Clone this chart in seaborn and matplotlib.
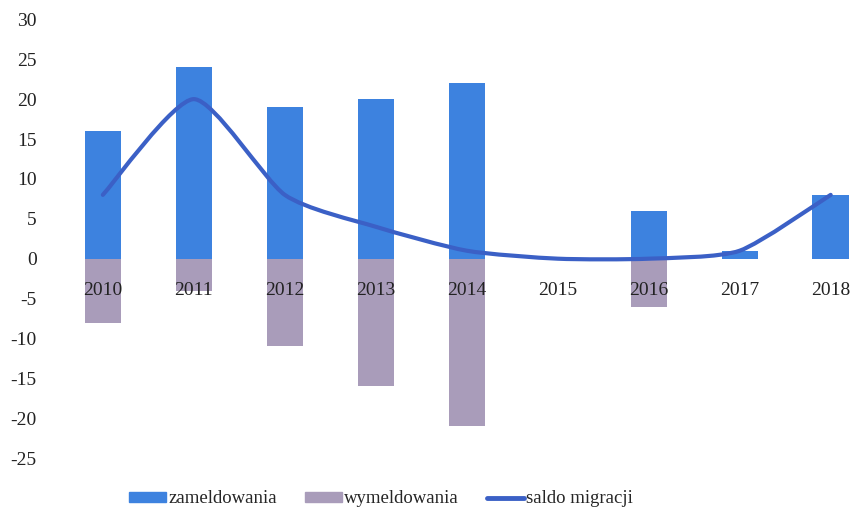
import numpy as np
import pandas as pd
import matplotlib
matplotlib.use("Agg")
import matplotlib.pyplot as plt
import matplotlib.patches as mpatches
from matplotlib.lines import Line2D
from matplotlib.path import Path
import seaborn as sns

years = ["2010", "2011", "2012", "2013", "2014", "2015", "2016", "2017", "2018"]
zameldowania = [16, 24, 19, 20, 22, 0, 6, 1, 8]
wymeldowania = [-8, -4, -11, -16, -21, 0, -6, 0, 0]
saldo = [8, 20, 8, 4, 1, 0, 0, 1, 8]

BLUE = "#3d82df"
GREY = "#a99cba"
LINE = "#3b60c6"

sns.set_theme(style="white")
plt.rcParams["font.family"] = ["Liberation Serif", "DejaVu Serif"]
plt.rcParams["axes.unicode_minus"] = False

df = pd.DataFrame({"rok": years, "zam": zameldowania, "wym": wymeldowania, "saldo": saldo})

fig = plt.figure(figsize=(8.56, 5.17), dpi=100)
ax = fig.add_axes([0.067, 0.083, 0.93, 0.895])

sns.barplot(data=df, x="rok", y="zam", color=BLUE, width=0.4, saturation=1,
            linewidth=0, ax=ax, zorder=2)
sns.barplot(data=df, x="rok", y="wym", color=GREY, width=0.4, saturation=1,
            linewidth=0, ax=ax, zorder=2)

# smoothed line through the data points
xs = np.arange(len(saldo), dtype=float)
ys = np.array(saldo, dtype=float)
verts = [(xs[0], ys[0])]
codes = [Path.MOVETO]
n = len(xs)
k = 9.0
for i in range(n - 1):
    p0 = np.array([xs[max(i - 1, 0)], ys[max(i - 1, 0)]])
    p1 = np.array([xs[i], ys[i]])
    p2 = np.array([xs[i + 1], ys[i + 1]])
    p3 = np.array([xs[min(i + 2, n - 1)], ys[min(i + 2, n - 1)]])
    c1 = p1 + (p2 - p0) / k
    c2 = p2 - (p3 - p1) / k
    verts += [tuple(c1), tuple(c2), tuple(p2)]
    codes += [Path.CURVE4] * 3
ax.add_patch(mpatches.PathPatch(Path(verts, codes), fill=False, edgecolor=LINE,
                                lw=3, zorder=5, capstyle="round"))

ax.set_ylim(-27, 31)
ax.set_xlim(-0.5, 8.25)
ax.set_yticks(range(-25, 31, 5))
ax.set_xlabel("")
ax.set_ylabel("")
for s in ["top", "right", "left"]:
    ax.spines[s].set_visible(False)
ax.spines["bottom"].set_position(("data", 0))
ax.spines["bottom"].set_color("none")
ax.tick_params(axis="both", length=0, labelsize=14, colors="#222222")
ax.tick_params(axis="x", pad=17)
ax.tick_params(axis="y", pad=15)
ax.xaxis.set_zorder(10)
ax.set_axisbelow(False)

handles = [
    mpatches.Patch(color=BLUE, label="zameldowania"),
    mpatches.Patch(color=GREY, label="wymeldowania"),
    Line2D([0], [0], color=LINE, lw=3.5, label="saldo migracji"),
]
fig.legend(handles=handles, loc="center", ncol=3, frameon=False, fontsize=13.5,
           bbox_to_anchor=(0.445, 0.035), handlelength=2.0, handleheight=0.45,
           columnspacing=1.5, handletextpad=0.1)

fig.savefig("out.png", dpi=100)
